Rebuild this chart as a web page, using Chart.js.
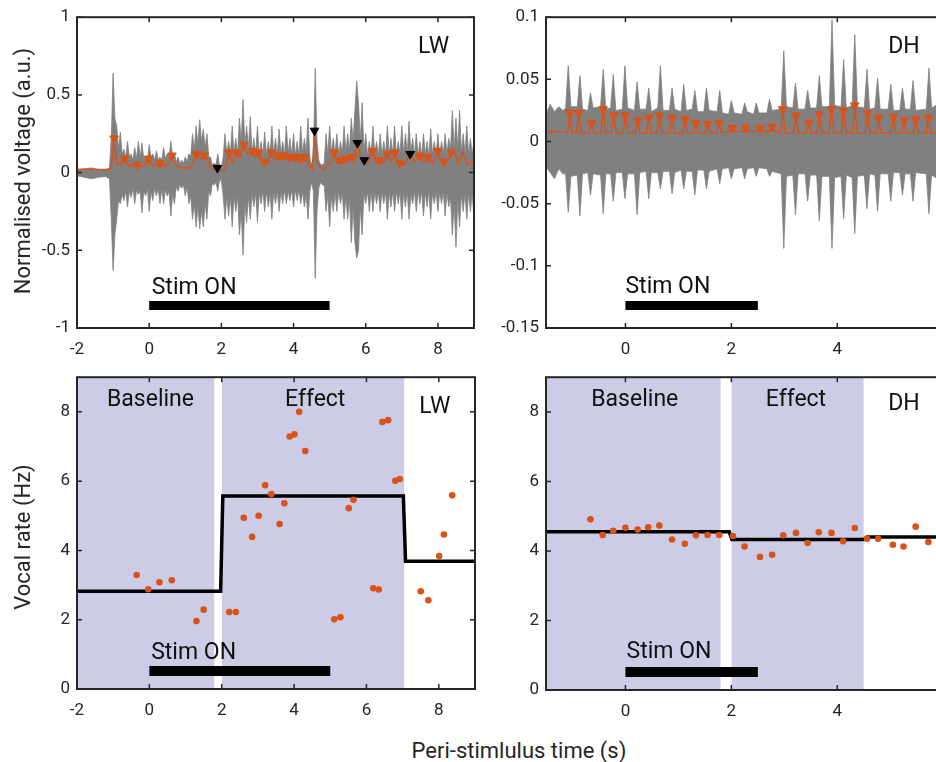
<!DOCTYPE html>
<html>
<head>
<meta charset="utf-8">
<script src="https://cdn.jsdelivr.net/npm/chart.js@4.4.0/dist/chart.umd.min.js"></script>
<style>
  html, body { margin: 0; padding: 0; background: #fff; }
  #wrap { position: relative; width: 936px; height: 762px; overflow: hidden; font-family: Roboto, "Open Sans", sans-serif; color: #262626; }
  canvas { position: absolute; }
  .title { position: absolute; font-size: 22px; white-space: nowrap; transform: translate(-50%, -50%); }
  .rot { transform: translate(-50%, -50%) rotate(-90deg); }
</style>
</head>
<body>
<div id="wrap">
  <canvas id="c1" width="480" height="360" style="left:0;top:0"></canvas>
  <canvas id="c2" width="470" height="360" style="left:490px;top:0"></canvas>
  <canvas id="c3" width="480" height="360" style="left:0;top:360px"></canvas>
  <canvas id="c4" width="470" height="360" style="left:490px;top:360px"></canvas>
  <div class="title rot" style="left:22px;top:171px">Normalised voltage (a.u.)</div>
  <div class="title rot" style="left:22px;top:537px">Vocal rate (Hz)</div>
  <div class="title" style="left:519px;top:750px">Peri-stimlulus time (s)</div>
</div>
<script>
// ---- LW raw trace, upper / lower envelope (top left) ----
const lwT = [-2,-1.8,-1.6,-1.4,-1.2,
  -1.10,-1.05,-1.00,-0.95,-0.90,-0.85,-0.80,-0.75,-0.70,-0.65,-0.60,-0.55,-0.50,-0.45,-0.40,-0.35,-0.30,-0.25,-0.20,-0.15,
  -0.10,-0.05,0,0.05,0.10,0.15,0.20,0.25,0.30,0.35,0.40,0.45,0.50,0.55,0.60,0.65,0.70,0.75,0.80,0.85,
  0.90,0.95,1.00,1.05,1.10,1.15,1.20,1.25,1.30,1.35,1.40,1.45,1.50,1.55,1.60,1.65,1.70,1.75,1.80,1.85,
  1.90,1.95,2.00,2.05,2.10,2.15,2.20,2.25,2.30,2.35,2.40,2.45,2.50,2.55,2.60,2.65,2.70,2.75,2.80,2.85,
  2.90,2.95,3.00,3.05,3.10,3.15,3.20,3.25,3.30,3.35,3.40,3.45,3.50,3.55,3.60,3.65,3.70,3.75,3.80,3.85,
  3.90,3.95,4.00,4.05,4.10,4.15,4.20,4.25,4.30,4.35,4.40,4.45,4.50,4.55,4.60,4.65,4.70,4.75,4.80,4.85,
  4.90,4.95,5.00,5.05,5.10,5.15,5.20,5.25,5.30,5.35,5.40,5.45,5.50,5.55,5.60,5.65,5.70,5.75,5.80,5.85,
  5.90,5.95,6.00,6.05,6.10,6.15,6.20,6.25,6.30,6.35,6.40,6.45,6.50,6.55,6.60,6.65,6.70,6.75,6.80,6.85,
  6.90,6.95,7.00,7.05,7.10,7.15,7.20,7.25,7.30,7.35,7.40,7.45,7.50,7.55,7.60,7.65,7.70,7.75,7.80,7.85,
  7.90,7.95,8.00,8.05,8.10,8.15,8.20,8.25,8.30,8.35,8.40,8.45,8.50,8.55,8.60,8.65,8.70,8.75,8.80,8.85,
  8.90,8.95,9.00];
const lwHi = [0.02,0.025,0.03,0.02,0.02,
  .03,.22,.64,.35,.3,.15,.26,.12,.15,.1,.2,.1,.12,.08,.16,.09,.2,.1,.19,.09,
  .1,.08,.18,.1,.12,.08,.14,.08,.1,.08,.16,.09,.12,.1,.2,.1,.12,.07,.1,.06,
  .08,.06,.1,.07,.12,.1,.25,.15,.3,.18,.34,.2,.28,.16,.25,.1,.1,.05,.06,.05,
  .12,.04,.03,.1,.25,.12,.2,.12,.3,.13,.22,.12,.35,.2,.47,.18,.3,.15,.36,.13,
  .22,.12,.3,.12,.2,.11,.26,.11,.2,.12,.3,.12,.22,.12,.28,.12,.2,.11,.3,.12,
  .22,.11,.25,.11,.2,.11,.3,.12,.22,.13,.35,.1,.05,.1,.67,.2,.08,.05,.05,.06,
  .25,.12,.3,.13,.22,.12,.25,.11,.2,.12,.3,.13,.25,.14,.35,.2,.4,.59,.45,.2,
  .45,.13,.25,.11,.2,.11,.3,.12,.2,.11,.25,.11,.2,.12,.3,.12,.22,.12,.3,.11,
  .2,.12,.3,.12,.25,.12,.33,.13,.22,.11,.25,.11,.2,.11,.25,.12,.2,.11,.28,.12,
  .2,.11,.25,.11,.2,.12,.25,.12,.22,.15,.4,.15,.35,.15,.4,.13,.25,.12,.3,.12,
  .22,.12,.2];
const lwLo = [-0.02,-0.03,-0.04,-0.03,-0.025,
  -.04,-.3,-.63,-.4,-.3,-.18,-.2,-.14,-.18,-.12,-.22,-.12,-.16,-.1,-.2,-.11,-.14,-.12,-.26,-.12,
  -.15,-.1,-.25,-.12,-.18,-.1,-.15,-.1,-.2,-.1,-.2,-.11,-.15,-.12,-.28,-.14,-.2,-.09,-.12,-.08,
  -.1,-.08,-.15,-.09,-.2,-.15,-.3,-.2,-.35,-.22,-.36,-.25,-.35,-.2,-.3,-.12,-.15,-.07,-.08,-.06,
  -.12,-.05,-.05,-.15,-.3,-.15,-.28,-.15,-.35,-.15,-.25,-.15,-.4,-.25,-.53,-.2,-.32,-.15,-.3,-.14,
  -.22,-.13,-.32,-.13,-.2,-.12,-.25,-.12,-.22,-.13,-.3,-.12,-.2,-.12,-.25,-.12,-.2,-.11,-.2,-.12,
  -.18,-.11,-.22,-.11,-.18,-.11,-.2,-.12,-.22,-.14,-.3,-.12,-.06,-.12,-.68,-.25,-.1,-.06,-.08,-.08,
  -.25,-.14,-.35,-.15,-.25,-.13,-.25,-.12,-.2,-.13,-.3,-.15,-.3,-.16,-.45,-.22,-.45,-.55,-.5,-.22,
  -.4,-.14,-.2,-.12,-.25,-.12,-.25,-.12,-.2,-.12,-.25,-.12,-.2,-.12,-.3,-.13,-.22,-.12,-.25,-.12,
  -.2,-.12,-.3,-.13,-.22,-.12,-.3,-.14,-.2,-.12,-.25,-.12,-.2,-.12,-.28,-.13,-.22,-.12,-.3,-.13,
  -.2,-.12,-.25,-.12,-.2,-.12,-.28,-.13,-.22,-.16,-.4,-.2,-.48,-.18,-.35,-.14,-.25,-.13,-.3,-.13,
  -.25,-.13,-.3];
// LW amplitude envelope (orange) and detected peaks
const lwEnvT = [-2,-1.1,-1.04,-0.97,-0.9,-0.8,-0.68,-0.55,-0.45,-0.34,-0.2,-0.1,-0.02,0.1,0.2,0.3,0.45,0.55,0.63,0.75,
  0.9,1.1,1.2,1.31,1.42,1.53,1.62,1.7,1.8,1.89,2.0,2.1,2.21,2.3,2.42,2.52,2.62,2.72,2.86,2.95,
  3.03,3.12,3.19,3.28,3.38,3.5,3.6,3.66,3.72,3.8,3.89,3.96,4.04,4.1,4.17,4.25,4.32,4.45,4.52,4.58,
  4.66,4.75,4.85,4.95,5.05,5.13,5.2,5.29,5.38,5.47,5.55,5.64,5.7,5.77,5.85,5.96,6.05,6.19,6.28,6.37,
  6.48,6.6,6.7,6.81,6.88,6.95,7.05,7.12,7.23,7.35,7.5,7.6,7.72,7.85,8.0,8.08,8.17,8.27,8.37,8.46,
  8.55,8.7,8.8,9.0];
const lwEnvV = [0.02,0.02,0.05,0.22,0.06,0.05,0.09,0.04,0.05,0.05,0.04,0.05,0.09,0.04,0.05,0.06,0.04,0.06,0.11,0.04,
  0.03,0.03,0.05,0.12,0.09,0.11,0.08,0.03,0.02,0.03,0.01,0.02,0.13,0.06,0.13,0.1,0.18,0.12,0.14,0.1,
  0.13,0.07,0.07,0.06,0.13,0.08,0.11,0.08,0.11,0.09,0.1,0.08,0.1,0.08,0.09,0.07,0.1,0.04,0.02,0.27,
  0.06,0.03,0.02,0.05,0.08,0.13,0.06,0.08,0.06,0.09,0.08,0.1,0.1,0.19,0.1,0.08,0.06,0.14,0.06,0.08,
  0.06,0.12,0.07,0.13,0.08,0.06,0.05,0.07,0.12,0.07,0.11,0.07,0.1,0.06,0.14,0.08,0.07,0.08,0.13,0.14,
  0.06,0.13,0.05,0.08];
const lwPeakX = [-0.97,-0.68,-0.34,-0.02,0.30,0.63,1.31,1.53,2.21,2.42,2.62,2.86,3.03,3.19,3.38,3.60,3.72,3.89,4.04,4.17,
  4.32,5.13,5.29,5.47,5.64,6.19,6.37,6.60,6.81,6.95,7.50,7.72,8.00,8.17,8.37];
const lwPeakY = [0.22,0.09,0.05,0.09,0.06,0.11,0.12,0.11,0.13,0.13,0.18,0.14,0.13,0.07,0.13,0.11,0.11,0.10,0.10,0.09,
  0.10,0.13,0.08,0.09,0.10,0.14,0.08,0.12,0.13,0.06,0.11,0.10,0.14,0.07,0.13];
const lwSelX = [1.89,4.58,5.77,5.96,7.23];
const lwSelY = [0.03,0.27,0.19,0.08,0.12];

// ---- DH raw trace envelope (top right) ----
const dhT = [-1.5,-1.42,-1.34,-1.26,-1.18,
  -1.13,-1.08,-1.03, -0.91,-0.86,-0.81, -0.71,-0.66,-0.61, -0.47,-0.42,-0.37, -0.28,-0.23,-0.18,
  -0.06,-0.01,0.04, 0.17,0.22,0.27, 0.39,0.44,0.49, 0.61,0.66,0.71, 0.83,0.88,0.93, 1.05,1.10,1.15,
  1.26,1.31,1.36, 1.48,1.53,1.58, 1.73,1.78,1.83, 1.95,2.00,2.05, 2.20,2.25,2.30, 2.42,2.47,2.52,
  2.67,2.72,2.77, 2.94,2.99,3.04, 3.16,3.21,3.26, 3.39,3.44,3.49, 3.61,3.66,3.71, 3.85,3.90,3.95,
  4.07,4.12,4.17, 4.28,4.33,4.38, 4.51,4.56,4.61, 4.71,4.76,4.81, 4.96,5.01,5.06, 5.18,5.23,5.28,
  5.38,5.43,5.48, 5.68,5.73,5.78, 5.9,6.0];
const dhHi = [.022,.03,.024,.028,.025,
  .027,.061,.028, .028,.053,.026, .025,.039,.027, .028,.058,.026, .027,.054,.025,
  .026,.061,.027, .025,.048,.026, .026,.043,.024, .027,.061,.025, .025,.043,.026, .024,.046,.025,
  .026,.041,.024, .024,.043,.025, .024,.041,.023, .022,.033,.023, .022,.031,.024, .022,.031,.023,
  .023,.034,.025, .026,.073,.028, .027,.047,.026, .026,.041,.027, .027,.053,.028, .028,.098,.029,
  .028,.066,.027, .029,.086,.028, .027,.058,.026, .027,.051,.026, .026,.046,.025, .025,.043,.026,
  .026,.049,.025, .026,.059,.027, .03,.026];
const dhLo = [-.02,-.025,-.03,-.022,-.026,
  -.026,-.057,-.028, -.027,-.06,-.026, -.025,-.043,-.026, -.027,-.058,-.026, -.026,-.048,-.025,
  -.025,-.046,-.026, -.026,-.059,-.025, -.024,-.046,-.025, -.025,-.038,-.024, -.024,-.042,-.025, -.023,-.038,-.024,
  -.024,-.043,-.023, -.023,-.038,-.024, -.022,-.034,-.022, -.021,-.03,-.022, -.021,-.03,-.022, -.021,-.028,-.021,
  -.022,-.028,-.024, -.026,-.086,-.028, -.027,-.059,-.026, -.026,-.048,-.027, -.027,-.064,-.028, -.028,-.086,-.029,
  -.028,-.062,-.027, -.029,-.074,-.028, -.027,-.054,-.026, -.027,-.056,-.026, -.026,-.048,-.025, -.025,-.043,-.026,
  -.026,-.048,-.025, -.026,-.058,-.027, -.03,-.028];
const dhEnvT = [-1.5,-1.2,
  -1.095,-1.05,-1.005, -0.925,-0.88,-0.835, -0.685,-0.64,-0.595, -0.465,-0.42,-0.375, -0.265,-0.22,-0.175,
  -0.045,0,0.045, 0.185,0.23,0.275, 0.395,0.44,0.485, 0.595,0.64,0.685, 0.835,0.88,0.925,
  1.085,1.13,1.175, 1.285,1.33,1.375, 1.505,1.55,1.595, 1.725,1.77,1.815, 1.975,2.02,2.065,
  2.215,2.26,2.305, 2.495,2.54,2.585, 2.725,2.77,2.815, 2.925,2.97,3.015, 3.175,3.22,3.265,
  3.415,3.46,3.505, 3.615,3.66,3.705, 3.845,3.89,3.935, 4.075,4.12,4.165, 4.285,4.33,4.375,
  4.525,4.57,4.615, 4.735,4.78,4.825, 5.015,5.06,5.105, 5.215,5.26,5.305, 5.435,5.48,5.525,
  5.675,5.72,5.765, 6.0];
const dhEnvV = [0.008,0.008,
  .007,.023,.007, .007,.023,.007, .007,.015,.007, .007,.026,.007, .007,.021,.007,
  .007,.021,.007, .007,.017,.007, .007,.019,.007, .007,.021,.007, .007,.019,.007,
  .007,.018,.007, .007,.015,.007, .007,.014,.007, .007,.015,.007, .008,.011,.008,
  .008,.011,.008, .008,.011,.008, .008,.012,.008, .007,.026,.007, .007,.021,.007,
  .007,.015,.007, .007,.022,.007, .007,.026,.007, .007,.025,.007, .007,.029,.007,
  .007,.023,.007, .007,.019,.007, .007,.020,.007, .007,.017,.007, .007,.018,.007,
  .007,.019,.007, .007];
const dhPeakX = [-1.05,-0.88,-0.64,-0.42,-0.22,0.0,0.23,0.44,0.64,0.88,1.13,1.33,1.55,1.77,2.02,2.26,2.54,2.77,2.97,3.22,
  3.46,3.66,3.89,4.12,4.33,4.57,4.78,5.06,5.26,5.48,5.72];
const dhPeakY = [0.023,0.023,0.015,0.026,0.021,0.021,0.017,0.019,0.021,0.019,0.018,0.015,0.014,0.015,0.011,0.011,0.011,0.012,0.026,0.021,
  0.015,0.022,0.026,0.025,0.029,0.023,0.019,0.020,0.017,0.018,0.019];

// ---- vocal rate (bottom panels) ----
const lwRateX = [-0.35,-0.03,0.28,0.62,1.30,1.50,2.21,2.39,2.61,2.84,3.02,3.20,3.37,3.60,3.73,3.88,4.01,4.14,4.31,5.11,
  5.28,5.51,5.64,6.19,6.34,6.44,6.60,6.80,6.92,7.50,7.71,8.01,8.14,8.37];
const lwRateY = [3.29,2.88,3.08,3.14,1.96,2.29,2.22,2.22,4.94,4.39,5.00,5.88,5.63,4.76,5.36,7.29,7.35,8.00,6.87,2.01,
  2.07,5.22,5.46,2.91,2.87,7.71,7.76,6.01,6.06,2.82,2.56,3.84,4.46,5.59];
const lwMeanX = [-2,1.97,2.03,7.02,7.08,9];
const lwMeanY = [2.82,2.82,5.57,5.57,3.69,3.69];
const dhRateX = [-0.66,-0.43,-0.23,0.0,0.23,0.43,0.64,0.88,1.12,1.33,1.55,1.77,2.03,2.25,2.54,2.77,2.98,3.22,3.44,3.65,
  3.89,4.11,4.33,4.56,4.77,5.05,5.25,5.48,5.72];
const dhRateY = [4.91,4.46,4.58,4.67,4.62,4.68,4.73,4.33,4.21,4.45,4.46,4.46,4.43,4.13,3.83,3.89,4.45,4.52,4.23,4.54,
  4.52,4.28,4.66,4.35,4.35,4.18,4.13,4.70,4.26];
const dhMeanX = [-1.5,1.96,2.01,4.5,4.56,6];
const dhMeanY = [4.55,4.55,4.33,4.33,4.40,4.40];

// analysis windows and stimulus
const lwBaseline = [-2, 1.8];
const lwEffect = [2.0, 7.05];
const dhBaseline = [-1.5, 1.8];
const dhEffect = [2.0, 4.5];
const lwStim = [0, 5];
const dhStim = [0, 2.5];

// tick labels
const lwXTicks = [-2, 0, 2, 4, 6, 8];
const dhXTicks = [0, 2, 4, 6];
const lwVoltTicks = [-1, -0.5, 0, 0.5, 1];
const dhVoltTicks = [-0.15, -0.1, -0.05, 0, 0.05, 0.1];
const rateTicks = [0, 2, 4, 6, 8];

const ORANGE = '#d95319';
const GRAY = '#808080';
const SHADE = '#ccccE6';
const INK = '#262626';
const FONT = 'Roboto, "Open Sans", sans-serif';

const pts = (xs, ys) => xs.map((x, i) => ({ x: x, y: Array.isArray(ys) ? ys[i] : ys }));

// box around the axes with inward ticks, plus text labels in data coordinates
const framePlugin = {
  id: 'frame',
  afterDatasetsDraw(chart, args, opts) {
    const { ctx, chartArea: a, scales } = chart;
    ctx.save();
    ctx.strokeStyle = INK;
    ctx.lineWidth = 2;
    ctx.strokeRect(a.left, a.top, a.right - a.left, a.bottom - a.top);
    ctx.lineWidth = 1.5;
    ctx.beginPath();
    scales.x.ticks.forEach(t => {
      const px = scales.x.getPixelForValue(t.value);
      ctx.moveTo(px, a.bottom); ctx.lineTo(px, a.bottom - 5);
      ctx.moveTo(px, a.top); ctx.lineTo(px, a.top + 5);
    });
    scales.y.ticks.forEach(t => {
      const py = scales.y.getPixelForValue(t.value);
      ctx.moveTo(a.left, py); ctx.lineTo(a.left + 5, py);
      ctx.moveTo(a.right, py); ctx.lineTo(a.right - 5, py);
    });
    ctx.stroke();
    ctx.fillStyle = '#111';
    ctx.font = '23px ' + FONT;
    ctx.textAlign = 'left';
    ctx.textBaseline = 'alphabetic';
    (opts.texts || []).forEach(t => {
      ctx.fillText(t.text, scales.x.getPixelForValue(t.x), scales.y.getPixelForValue(t.y));
    });
    ctx.restore();
  }
};

function panel(id, o) {
  const tickFont = { family: FONT, size: 17 };
  return new Chart(document.getElementById(id), {
    type: 'scatter',
    data: { datasets: o.datasets },
    options: {
      responsive: false,
      animation: false,
      layout: { padding: { left: 0, top: o.padTop, right: o.padRight, bottom: 0 } },
      plugins: { legend: { display: false }, tooltip: { enabled: false }, frame: { texts: o.texts } },
      scales: {
        x: {
          type: 'linear', min: o.xMin, max: o.xMax,
          grid: { display: false, drawTicks: false }, border: { display: false },
          ticks: { color: INK, font: tickFont, padding: 12, maxRotation: 0, callback: v => String(v) },
          afterBuildTicks: s => { s.ticks = o.xTicks.map(v => ({ value: v })); },
          afterFit: s => { s.height = o.xAxisH; }
        },
        y: {
          type: 'linear', min: o.yMin, max: o.yMax,
          grid: { display: false, drawTicks: false }, border: { display: false },
          ticks: { color: INK, font: tickFont, padding: 7, callback: v => String(v) },
          afterBuildTicks: s => { s.ticks = o.yTicks.map(v => ({ value: v })); },
          afterFit: s => { s.width = o.yAxisW; }
        }
      }
    },
    plugins: [framePlugin]
  });
}

const lineDs = (data, color, width, extra) => Object.assign({
  data: data, showLine: true, borderColor: color, borderWidth: width, pointRadius: 0, fill: false
}, extra || {});

function tracePanel(id, o) {
  return panel(id, {
    xMin: o.xMin, xMax: o.xMax, yMin: o.yMin, yMax: o.yMax,
    xTicks: o.xTicks, yTicks: o.yTicks,
    padTop: 14, padRight: o.padRight, xAxisH: 32, yAxisW: o.yAxisW,
    texts: o.texts,
    datasets: [
      { data: pts(o.selX || [], o.selY || []), pointStyle: 'triangle', rotation: 180, pointRadius: 5,
        backgroundColor: '#000', borderColor: '#000', borderWidth: 1 },
      { data: pts(o.peakX, o.peakY), pointStyle: 'triangle', rotation: 180, pointRadius: 5,
        backgroundColor: ORANGE, borderColor: ORANGE, borderWidth: 1 },
      lineDs(pts(o.envT, o.envV), ORANGE, 1.5),
      lineDs(pts(o.stim, o.stimY), '#000', 9, { borderCapStyle: 'butt' }),
      lineDs(pts(o.t, o.hi), GRAY, 0.8, { fill: '+1', backgroundColor: GRAY }),
      lineDs(pts(o.t, o.lo), GRAY, 0.8)
    ]
  });
}

function ratePanel(id, o) {
  return panel(id, {
    xMin: o.xMin, xMax: o.xMax, yMin: 0, yMax: 9,
    xTicks: o.xTicks, yTicks: rateTicks,
    padTop: o.padTop, padRight: o.padRight, xAxisH: o.xAxisH, yAxisW: o.yAxisW,
    texts: o.texts,
    datasets: [
      { data: pts(o.rateX, o.rateY), pointRadius: 3.3, backgroundColor: ORANGE, borderWidth: 0 },
      lineDs(pts(o.meanX, o.meanY), '#000', 3.5),
      lineDs(pts(o.stim, 0.52), '#000', 10, { borderCapStyle: 'butt' }),
      lineDs(pts(o.effect, 9), SHADE, 0, { fill: 'start', backgroundColor: SHADE }),
      lineDs(pts(o.baseline, 9), SHADE, 0, { fill: 'start', backgroundColor: SHADE })
    ]
  });
}

tracePanel('c1', {
  xMin: -2, xMax: 9, yMin: -1, yMax: 1, xTicks: lwXTicks, yTicks: lwVoltTicks,
  padRight: 5, yAxisW: 77,
  t: lwT, hi: lwHi, lo: lwLo, envT: lwEnvT, envV: lwEnvV,
  peakX: lwPeakX, peakY: lwPeakY, selX: lwSelX, selY: lwSelY,
  stim: lwStim, stimY: -0.855,
  texts: [{ text: 'LW', x: 7.45, y: 0.77 }, { text: 'Stim ON', x: 0.07, y: -0.78 }]
});

tracePanel('c2', {
  xMin: -1.5, xMax: 6, yMin: -0.15, yMax: 0.1, xTicks: dhXTicks, yTicks: dhVoltTicks,
  padRight: 15, yAxisW: 56,
  t: dhT, hi: dhHi, lo: dhLo, envT: dhEnvT, envV: dhEnvV,
  peakX: dhPeakX, peakY: dhPeakY,
  stim: dhStim, stimY: -0.132,
  texts: [{ text: 'DH', x: 4.96, y: 0.0713 }, { text: 'Stim ON', x: 0.0, y: -0.1215 }]
});

ratePanel('c3', {
  xMin: -2, xMax: 9, xTicks: lwXTicks, padTop: 14, padRight: 5, xAxisH: 31, yAxisW: 77,
  rateX: lwRateX, rateY: lwRateY, meanX: lwMeanX, meanY: lwMeanY,
  baseline: lwBaseline, effect: lwEffect, stim: lwStim,
  texts: [{ text: 'Baseline', x: -1.17, y: 8.17 }, { text: 'Effect', x: 3.75, y: 8.17 },
          { text: 'LW', x: 7.46, y: 7.98 }, { text: 'Stim ON', x: 0.05, y: 0.87 }]
});

ratePanel('c4', {
  xMin: -1.5, xMax: 6, xTicks: dhXTicks, padTop: 16, padRight: 15, xAxisH: 30, yAxisW: 56,
  rateX: dhRateX, rateY: dhRateY, meanX: dhMeanX, meanY: dhMeanY,
  baseline: dhBaseline, effect: dhEffect, stim: dhStim,
  texts: [{ text: 'Baseline', x: -0.645, y: 8.17 }, { text: 'Effect', x: 2.65, y: 8.17 },
          { text: 'DH', x: 4.96, y: 8.06 }, { text: 'Stim ON', x: 0.02, y: 0.91 }]
});
</script>
</body>
</html>
